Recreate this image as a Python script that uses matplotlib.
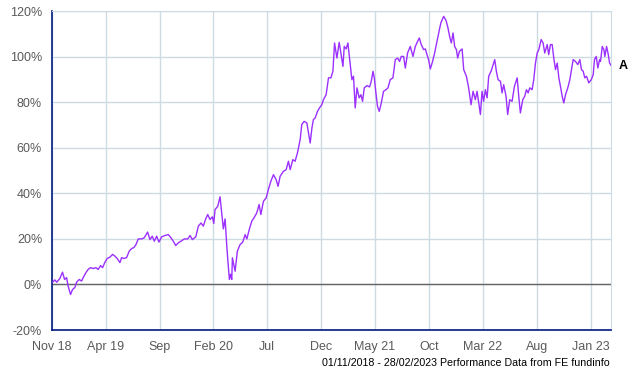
import matplotlib
matplotlib.use("Agg")
import matplotlib.pyplot as plt

# months since 01/11/2018 and cumulative performance (%)
months = [
    0.07, 0.28, 0.46, 0.74, 0.99, 1.18, 1.37, 1.51, 1.74, 1.92, 2.14, 2.30, 2.54, 2.76, 2.91,
    3.16, 3.37, 3.60, 3.84, 4.09, 4.30, 4.53, 4.71, 4.93, 5.14, 5.39, 5.64, 5.86, 6.07, 6.32,
    6.48, 6.69, 6.94, 7.18, 7.41, 7.62, 7.81, 8.02, 8.34, 8.58, 8.89, 9.11, 9.32, 9.51, 9.73,
    9.94, 10.19, 10.50, 10.81, 11.06, 11.27, 11.50, 11.74, 11.99, 12.30, 12.61, 12.83, 13.04,
    13.36, 13.60, 13.85, 14.06, 14.28, 14.47, 14.68, 14.90, 15.03, 15.15, 15.40, 15.61, 15.77,
    15.92, 16.08, 16.24, 16.33, 16.48, 16.59, 16.70, 16.76, 17.01, 17.22, 17.47, 17.72, 17.94,
    18.10, 18.34, 18.56, 18.77, 19.02, 19.24, 19.40, 19.64, 19.89, 20.10, 20.33, 20.57, 20.82,
    21.00, 21.19, 21.50, 21.75, 21.96, 22.12, 22.37, 22.58, 22.80, 23.05, 23.20, 23.42, 23.67,
    23.82, 23.98, 24.14, 24.28, 24.44, 24.66, 24.84, 25.06, 25.21, 25.46, 25.68, 25.90, 26.09,
    26.24, 26.46, 26.67, 26.83, 27.02, 27.14, 27.32, 27.48, 27.63, 27.85, 28.00, 28.16, 28.32,
    28.53, 28.69, 28.84, 29.00, 29.25, 29.49, 29.65, 29.81, 29.93, 30.08, 30.23, 30.39, 30.58,
    30.79, 31.01, 31.20, 31.41, 31.66, 31.88, 32.09, 32.28, 32.43, 32.65, 32.81, 33.02, 33.27,
    33.52, 33.74, 33.95, 34.11, 34.29, 34.51, 34.67, 34.82, 34.97, 35.13, 35.34, 35.53, 35.75,
    35.97, 36.12, 36.37, 36.59, 36.77, 36.92, 37.08, 37.24, 37.39, 37.55, 37.67, 37.83, 38.08,
    38.23, 38.48, 38.69, 38.91, 39.10, 39.31, 39.47, 39.62, 39.78, 39.93, 40.08, 40.24, 40.40,
    40.55, 40.77, 40.96, 41.11, 41.26, 41.42, 41.64, 41.79, 41.94, 42.16, 42.31, 42.50, 42.72,
    42.94, 43.19, 43.34, 43.49, 43.71, 43.89, 44.05, 44.21, 44.36, 44.58, 44.73, 44.89, 45.05,
    45.20, 45.42, 45.60, 45.75, 45.98, 46.12, 46.28, 46.44, 46.59, 46.75, 46.91, 47.06, 47.21,
    47.37, 47.52, 47.68, 47.89, 48.08, 48.23, 48.39, 48.61, 48.82, 49.01, 49.16, 49.32, 49.47,
    49.63, 49.84, 50.07, 50.25, 50.37, 50.53, 50.68, 50.84, 50.93, 51.09, 51.24, 51.33, 51.49,
    51.65, 51.77, 51.92,
]
perf = [
    1.0, 2.0, 1.0, 2.6, 5.4, 2.2, 3.0, -0.7, -4.4, -2.2, -1.3, 1.0, 2.2, 1.5, 3.0,
    5.2, 6.6, 7.4, 7.0, 7.4, 6.6, 8.3, 7.4, 9.8, 11.4, 12.0, 13.2, 12.4, 11.4, 9.6,
    11.8, 11.4, 11.8, 14.6, 15.8, 16.2, 17.5, 20.0, 20.0, 20.5, 23.0, 19.7, 21.2, 19.0, 21.2,
    18.6, 20.9, 21.5, 21.9, 20.5, 19.0, 17.1, 18.3, 19.0, 20.0, 20.0, 21.5, 19.7,
    20.9, 25.6, 27.0, 25.6, 28.8, 30.7, 28.5, 29.7, 26.8, 32.9, 34.3, 38.5, 31.4,
    24.4, 28.8, 16.8, 11.0, 2.2, 4.5, 2.2, 11.7, 5.8, 14.6, 17.5, 18.6, 21.9,
    20.0, 24.4, 27.8, 29.3, 31.4, 35.1, 30.7, 36.5, 38.0, 41.7, 45.3, 48.2, 46.0,
    43.1, 47.5, 49.7, 50.4, 54.1, 50.4, 54.8, 54.1, 57.8, 63.6, 70.2, 71.6, 70.9,
    66.5, 62.1, 68.7, 72.4, 73.1, 76.0, 77.5, 78.9, 81.1, 83.3, 90.7, 90.7, 93.6,
    106.0, 99.4, 106.3, 101.6, 95.7, 104.5, 103.4, 106.0, 99.4, 89.9, 91.4, 77.5, 86.3,
    81.9, 83.3, 80.4, 86.3, 87.3, 86.7, 89.2, 93.6, 90.7, 84.1, 78.2, 76.0, 79.7,
    84.8, 85.5, 86.3, 89.9, 90.7, 98.7, 99.4, 97.9, 100.1, 100.1, 95.0, 101.6, 104.5,
    100.1, 104.5, 106.7, 108.2, 105.3, 103.1, 103.4, 100.9, 98.7, 94.6, 97.9, 101.6, 106.7,
    111.8, 115.0, 117.7, 115.9, 112.6, 108.9, 106.0, 110.4, 104.5, 103.1, 99.4, 102.3, 103.4,
    94.3, 91.4, 86.3, 78.9, 84.8, 81.1, 84.8, 79.7, 74.6, 84.8, 80.4, 85.5, 81.9,
    91.4, 93.6, 96.5, 98.7, 93.6, 89.9, 89.2, 84.1, 87.7, 82.6, 74.6, 81.1, 80.4,
    87.0, 90.7, 82.6, 75.3, 81.1, 82.6, 85.5, 84.1, 86.3, 85.5, 89.9, 97.2, 101.6,
    103.1, 107.5, 106.0, 101.6, 105.3, 100.9, 105.3, 105.3, 99.4, 94.3, 97.2, 90.7, 87.0,
    82.6, 79.7, 83.3, 86.3, 89.9, 94.3, 98.7, 97.9, 96.5, 98.7, 94.3, 93.6, 90.7,
    91.4, 88.5, 89.9, 92.1, 98.7, 100.1, 95.0, 98.7, 97.9, 104.5, 103.1, 100.1, 104.5,
    100.9, 97.2, 96.1,
]

tick_pos = [0, 5, 10, 15, 20, 25, 30, 35, 40, 45, 50]
tick_labels = ["Nov 18", "Apr 19", "Sep", "Feb 20", "Jul", "Dec", "May 21",
               "Oct", "Mar 22", "Aug", "Jan 23"]
y_ticks = [-20, 0, 20, 40, 60, 80, 100, 120]

plt.rcParams["font.family"] = ["Liberation Sans", "DejaVu Sans"]

fig = plt.figure(figsize=(6.4, 3.7), dpi=100)
ax = fig.add_axes([0.081, 0.108, 0.874, 0.862])

grid_c = "#cddbe5"
ax.plot(months, perf, color="#9b30ff", lw=1.0, zorder=3)
ax.axhline(0, color="#666666", lw=1, zorder=2)

ax.set_xlim(0, 51.92)
ax.set_ylim(-20, 120)
ax.set_xticks(tick_pos)
ax.set_xticklabels(tick_labels)
ax.set_yticks(y_ticks)
ax.set_yticklabels([f"{v}%" for v in y_ticks])
ax.grid(True, color=grid_c, lw=1)
ax.set_axisbelow(True)
ax.tick_params(length=0, labelsize=9, colors="#5a5a5a", pad=8)
ax.tick_params(axis="y", pad=7)

for s in ["top", "right"]:
    ax.spines[s].set_color(grid_c)
for s in ["left", "bottom"]:
    ax.spines[s].set_color("#001a80")
    ax.spines[s].set_linewidth(1.2)

ax.text(1.013, perf[-1], "A", transform=ax.get_yaxis_transform(),
        fontsize=9, fontweight="bold", va="center", ha="left")
fig.text(0.953, 0.006, "01/11/2018 - 28/02/2023 Performance Data from FE fundinfo",
         fontsize=7.7, ha="right", va="bottom", color="black")

fig.savefig("out.png", dpi=100)
